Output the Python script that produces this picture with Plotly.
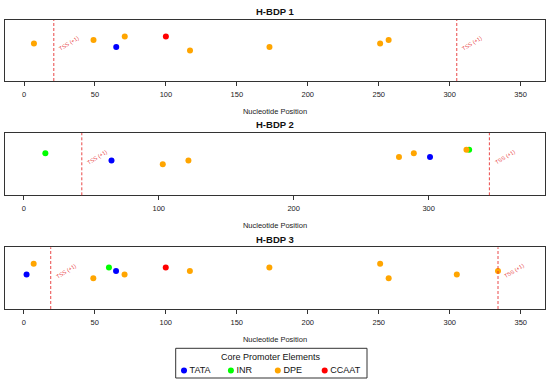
import plotly.graph_objects as go

# ---------------- data ----------------
panel_titles = ["H-BDP 1", "H-BDP 2", "H-BDP 3"]
element_names = ["TATA", "INR", "DPE", "CCAAT"]
element_colors = {"TATA": "#0000FF", "INR": "#00FF00", "DPE": "#FFA500", "CCAAT": "#FF0000"}

# H-BDP 1
p1_pos = [7, 49, 65, 71, 100, 117, 173, 251, 257]
p1_type = ["DPE", "DPE", "TATA", "DPE", "CCAAT", "DPE", "DPE", "DPE", "DPE"]
p1_y = [1.0, 1.1, 0.9, 1.2, 1.2, 0.8, 0.9, 1.0, 1.1]
p1_tss = [21, 305]

# H-BDP 2
p2_pos = [16, 65, 103, 122, 278, 289, 301, 328, 330]
p2_type = ["INR", "TATA", "DPE", "DPE", "DPE", "DPE", "TATA", "DPE", "INR"]
p2_y = [1.1, 0.9, 0.8, 0.9, 1.0, 1.1, 1.0, 1.2, 1.2]
p2_tss = [43, 345]

# H-BDP 3
p3_pos = [2, 7, 49, 60, 65, 71, 100, 117, 173, 251, 257, 305, 334]
p3_type = ["TATA", "DPE", "DPE", "INR", "TATA", "DPE", "CCAAT", "DPE", "DPE", "DPE", "DPE", "DPE", "DPE"]
p3_y = [0.9, 1.2, 0.8, 1.1, 1.0, 0.9, 1.1, 1.0, 1.1, 1.2, 0.8, 0.9, 1.0]
p3_tss = [19, 334]

x_ranges = [[-13.4, 367.2], [-13.9, 386.2], [-13.2, 367.1]]
x_ticks = [[0, 50, 100, 150, 200, 250, 300, 350], [0, 100, 200, 300],
           [0, 50, 100, 150, 200, 250, 300, 350]]
y_range = [-0.064, 1.664]

panels = [(p1_pos, p1_type, p1_y, p1_tss), (p2_pos, p2_type, p2_y, p2_tss),
          (p3_pos, p3_type, p3_y, p3_tss)]

# ---------------- layout constants ----------------
W, H = 550, 385
FONT = "Liberation Sans, Arial, Helvetica, sans-serif"
panel_px = [(20, 81), (133, 195.3), (247.3, 309)]  # top, bottom in px
x_dom = [5 / W, 545 / W]
title_px = [11, 124.7, 239.3]

fig = go.Figure()
layout = dict(width=W, height=H, margin=dict(l=0, r=0, t=0, b=0, autoexpand=False),
              paper_bgcolor="white", plot_bgcolor="white", showlegend=False,
              font=dict(family=FONT, color="#222"))
shapes = []
annotations = []

for i, (pos, typ, yv, tss) in enumerate(panels):
    n = i + 1
    xa = "x" if n == 1 else f"x{n}"
    ya = "y" if n == 1 else f"y{n}"
    for name in element_names:
        xs = [p for p, t in zip(pos, typ) if t == name]
        ys = [y for y, t in zip(yv, typ) if t == name]
        if not xs:
            continue
        fig.add_trace(go.Scatter(x=xs, y=ys, mode="markers", xaxis=xa, yaxis=ya,
                                 name=name, showlegend=False,
                                 marker=dict(color=element_colors[name], size=6,
                                             line=dict(width=0))))
    top, bot = panel_px[i]
    layout[f"xaxis{'' if n == 1 else n}"] = dict(
        domain=x_dom, range=x_ranges[i], anchor=ya, tickmode="array",
        tickvals=x_ticks[i], ticks="outside", ticklen=4, tickcolor="#333",
        tickwidth=1, showline=True, mirror=True, linecolor="#333", linewidth=1,
        showgrid=False, zeroline=False,
        tickfont=dict(family=FONT, size=7.5, color="#222"),
        ticklabelstandoff=2, automargin=False,
        title=dict(text="Nucleotide Position",
                   font=dict(family=FONT, size=7.5, color="#222"), standoff=10))
    layout[f"yaxis{'' if n == 1 else n}"] = dict(
        domain=[1 - bot / H, 1 - top / H], range=y_range, anchor=xa,
        showticklabels=False, ticks="", showline=True, mirror=True, automargin=False,
        linecolor="#333", linewidth=1, showgrid=False, zeroline=False)
    for t in tss:
        shapes.append(dict(type="line", xref=xa, yref=f"{ya} domain", x0=t, x1=t,
                           y0=0, y1=1, line=dict(color="rgba(230,40,40,0.85)",
                                                 width=1, dash="3px,2px")))
        annotations.append(dict(text="TSS (+1)", x=t, y=1.0, xref=xa, yref=ya,
                                xanchor="left", yanchor="middle", xshift=2,
                                textangle=-32, showarrow=False,
                                font=dict(family=FONT, size=5.5,
                                          color="rgba(230,40,40,0.9)")))
    annotations.append(dict(text=f"<b>{panel_titles[i]}</b>", x=0.5, xref="paper",
                            y=1 - title_px[i] / H, yref="paper", xanchor="center",
                            yanchor="middle", showarrow=False,
                            font=dict(family=FONT, size=9.5, color="#111")))

# ---------------- legend (drawn on its own small axes) ----------------
leg_left, leg_right, leg_top, leg_bot = 175.7, 367, 348.3, 378
leg_step = 46.9
leg_x = [k + (184 - leg_left) / leg_step for k in range(len(element_names))]
fig.add_trace(go.Scatter(x=leg_x, y=[0.25] * len(element_names), mode="markers",
                         xaxis="x4", yaxis="y4", showlegend=False,
                         marker=dict(color=[element_colors[e] for e in element_names],
                                     size=6), hoverinfo="skip"))
fig.add_trace(go.Scatter(x=[v + 0.12 for v in leg_x], y=[0.25] * len(element_names),
                         mode="text", xaxis="x4", yaxis="y4", showlegend=False,
                         text=element_names, textposition="middle right",
                         textfont=dict(family=FONT, size=9, color="#111"),
                         hoverinfo="skip"))
layout["xaxis4"] = dict(domain=[leg_left / W, leg_right / W],
                        range=[0, (leg_right - leg_left) / leg_step], anchor="y4",
                        visible=False, fixedrange=True, automargin=False)
layout["yaxis4"] = dict(domain=[1 - leg_bot / H, 1 - leg_top / H], range=[0, 1],
                        anchor="x4", visible=False, fixedrange=True, automargin=False)
shapes.append(dict(type="rect", xref="x4 domain", yref="y4 domain", x0=0, x1=1,
                   y0=0, y1=1, line=dict(color="#333", width=1)))
annotations.append(dict(text="Core Promoter Elements", x=(leg_left + leg_right) / 2 / W,
                        xref="paper", y=1 - 356.7 / H, yref="paper", xanchor="center",
                        yanchor="middle", showarrow=False,
                        font=dict(family=FONT, size=9, color="#111")))

layout["shapes"] = shapes
layout["annotations"] = annotations
fig.update_layout(**layout)
fig.write_html("out.html", config={"displayModeBar": False},
               post_script="document.body.style.margin='0';"
                           "document.body.style.overflow='hidden';")
